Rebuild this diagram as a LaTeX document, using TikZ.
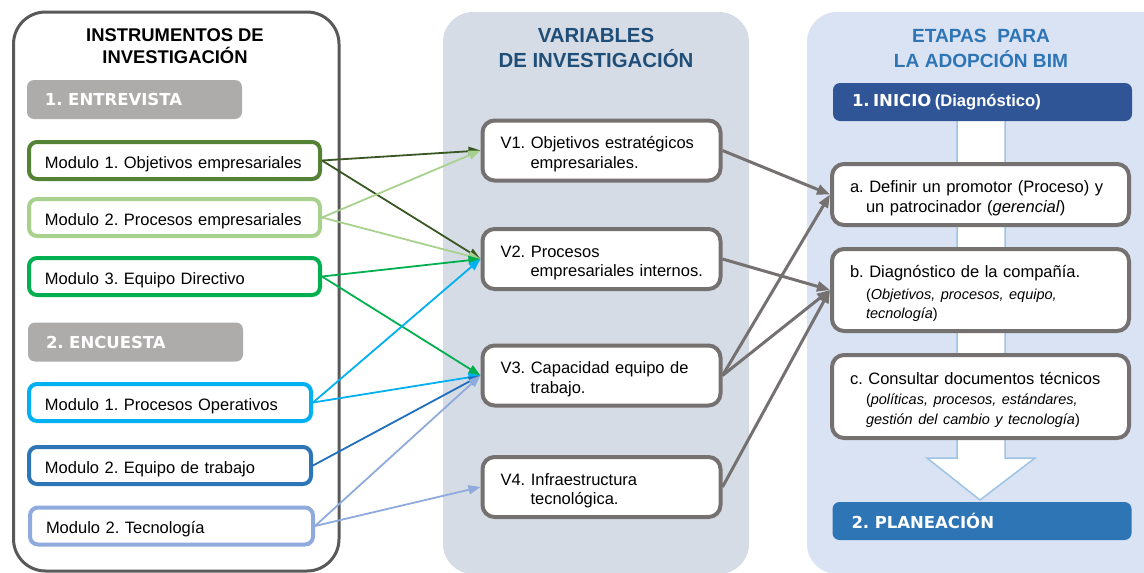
\documentclass[tikz,border=0pt]{standalone}
\usepackage{fontspec}
\setmainfont{Liberation Sans}
\newfontfamily\heavyfont{DejaVu Sans}
\usetikzlibrary{arrows.meta}
\frenchspacing

\definecolor{panelgris}{HTML}{595959}
\definecolor{cabgris}{HTML}{AEABAB}
\definecolor{verdeosc}{HTML}{548235}
\definecolor{verdeflecha}{HTML}{385723}
\definecolor{verdecla}{HTML}{A9D18E}
\definecolor{verde}{HTML}{00B050}
\definecolor{celeste}{HTML}{00B0F0}
\definecolor{azul}{HTML}{2E75B6}
\definecolor{azulosc}{HTML}{1F6FBF}
\definecolor{azulcla}{HTML}{8FAADC}
\definecolor{fondovar}{HTML}{D6DCE5}
\definecolor{fondoeta}{HTML}{DAE3F3}
\definecolor{titvar}{HTML}{1F4E79}
\definecolor{bordevar}{HTML}{767171}
\definecolor{inicio}{HTML}{2F5597}
\definecolor{flechagr}{HTML}{9DC3E6}

\tikzset{
  cuerpo/.style={font=\fontsize{16.5}{19.5}\selectfont, execute at begin node={\rule{0pt}{19pt}}},
  modbox/.style={cuerpo, draw=#1, line width=4pt, rounded corners=8pt, fill=white,
    minimum height=37pt, inner xsep=16pt, text width=259pt, align=left},
  cabbox/.style={fill=cabgris, rounded corners=7pt, minimum height=39pt, inner xsep=18pt,
    text width=179pt, align=left, text=white, font=\heavyfont\bfseries\fontsize{16.5}{18}\selectfont},
  varbox/.style={cuerpo, draw=bordevar, line width=4pt, rounded corners=12pt, fill=white,
    minimum height=60pt, inner xsep=18pt, text width=202pt, align=left},
  etabox/.style={cuerpo, draw=bordevar, line width=4pt, rounded corners=12pt, fill=white,
    inner xsep=18pt, text width=261pt, align=left},
  fasebox/.style={rounded corners=7pt, minimum height=38pt, inner xsep=19pt,
    text width=261pt, align=left, text=white},
  titulo/.style={align=center, font=\bfseries\fontsize{#1}{25}\selectfont},
  flecha/.style={line width=1.8pt, draw=#1, -{Triangle[length=12pt,width=9pt]}},
  flechagris/.style={line width=3pt, draw=bordevar, -{Triangle[length=13pt,width=10pt]}},
}

\begin{document}
\begin{tikzpicture}[x=1pt,y=-1pt]
  \useasboundingbox (0,0) rectangle (1144,573);
  \clip (0,0) rectangle (1144,573);
  % paneles
  \draw[panelgris, line width=3pt, rounded corners=32pt] (13.5,12) rectangle (339,571);
  \fill[fondovar, rounded corners=30pt] (443,12) rectangle (749,574);
  \fill[fondoeta, rounded corners=30pt] (807,12) rectangle (1180,574);

  % titulos
  \node[titulo=18.4, font=\bfseries\fontsize{18.4}{22.5}\selectfont] (tinst) at (175,46) {INSTRUMENTOS DE\\INVESTIGACIÓN};
  \node[titulo=20.4, text=titvar] (tvar) at (596,48) {VARIABLES\\DE INVESTIGACIÓN};
  \node[titulo=19.1, text=azul] (teta) at (981,48) {ETAPAS~ PARA\\LA ADOPCIÓN BIM};

  % instrumentos
  \node[cabbox] (entrevista) at (134.5,99.5) {1. ENTREVISTA};
  \node[modbox=verdeosc] (m1) at (174.5,160.5) {Modulo 1. Objetivos empresariales};
  \node[modbox=verdecla] (m2) at (174.5,217.5) {Modulo 2. Procesos empresariales};
  \node[modbox=verde] (m3) at (174.5,276.5) {Modulo 3. Equipo Directivo};
  \node[cabbox] (encuesta) at (135.5,342) {2. ENCUESTA};
  \node[modbox=celeste, text width=250pt] (m4) at (170,402.5) {Modulo 1. Procesos Operativos};
  \node[modbox=azul, text width=250pt] (m5) at (170,465.5) {Modulo 2. Equipo de trabajo};
  \node[modbox=azulcla, text width=251pt] (m6) at (171.5,526) {Modulo 2. Tecnología};

  % variables
  \node[varbox] (v1) at (601.5,150.5) {V1. Objetivos estratégicos\\\hspace*{30pt}empresariales.};
  \node[varbox] (v2) at (601.5,259) {V2. Procesos\\\hspace*{30pt}\mbox{empresariales internos.}};
  \node[varbox] (v3) at (601.5,375.5) {V3. Capacidad equipo de\\\hspace*{30pt}trabajo.};
  \node[varbox] (v4) at (601.5,487) {V4. Infraestructura\\\hspace*{30pt}tecnológica.};

  % flecha grande
  \draw[flechagr, line width=1.5pt, fill=white] (957,121) -- (957,458) -- (927,458) -- (980,500)
    -- (1035,458) -- (1005,458) -- (1005,121);

  % etapas
  \node[fasebox, fill=inicio] (inicio) at (982.5,102)
    {{\heavyfont\bfseries\fontsize{16.5}{19}\selectfont 1. INICIO} {\bfseries\fontsize{16.6}{19}\selectfont (Diagnóstico)}};
  \node[etabox, minimum height=61pt] (ea) at (980.5,194.5)
    {a. Definir un promotor (Proceso) y\\\hspace*{16pt}un patrocinador (\textit{gerencial})};
  \node[etabox, minimum height=82pt] (eb) at (980.5,290)
    {b. Diagnóstico de la compañía.\\[2pt]\fontsize{14.5}{20}\selectfont
     \hspace*{16pt}(\textit{Objetivos, procesos, equipo,}\\\hspace*{16pt}\textit{tecnología})};
  \node[etabox, minimum height=83pt] (ec) at (980.5,396.5)
    {c. Consultar documentos técnicos\\\fontsize{14.5}{20}\selectfont
     \hspace*{16pt}(\textit{políticas, procesos, estándares,}\\\hspace*{16pt}\textit{gestión del cambio y tecnología})};
  \node[fasebox, fill=azul, font=\heavyfont\bfseries\fontsize{16.5}{18}\selectfont] (planea) at (982,521) {2. PLANEACIÓN};

  % conexiones
  \foreach \a/\b/\c in {m1/v1/verdeflecha, m1/v2/verdeflecha, m2/v1/verdecla, m2/v2/verdecla,
      m3/v2/verde, m3/v3/verde, m4/v2/celeste, m4/v3/celeste, m5/v3/azulosc,
      m6/v3/azulcla, m6/v4/azulcla}
    \draw[flecha=\c] (\a.east) -- (\b.west);
  \foreach \a/\b in {v1/ea, v2/eb, v3/ea, v3/eb, v4/eb}
    \draw[flechagris] (\a.east) -- (\b.west);
\end{tikzpicture}
\end{document}
